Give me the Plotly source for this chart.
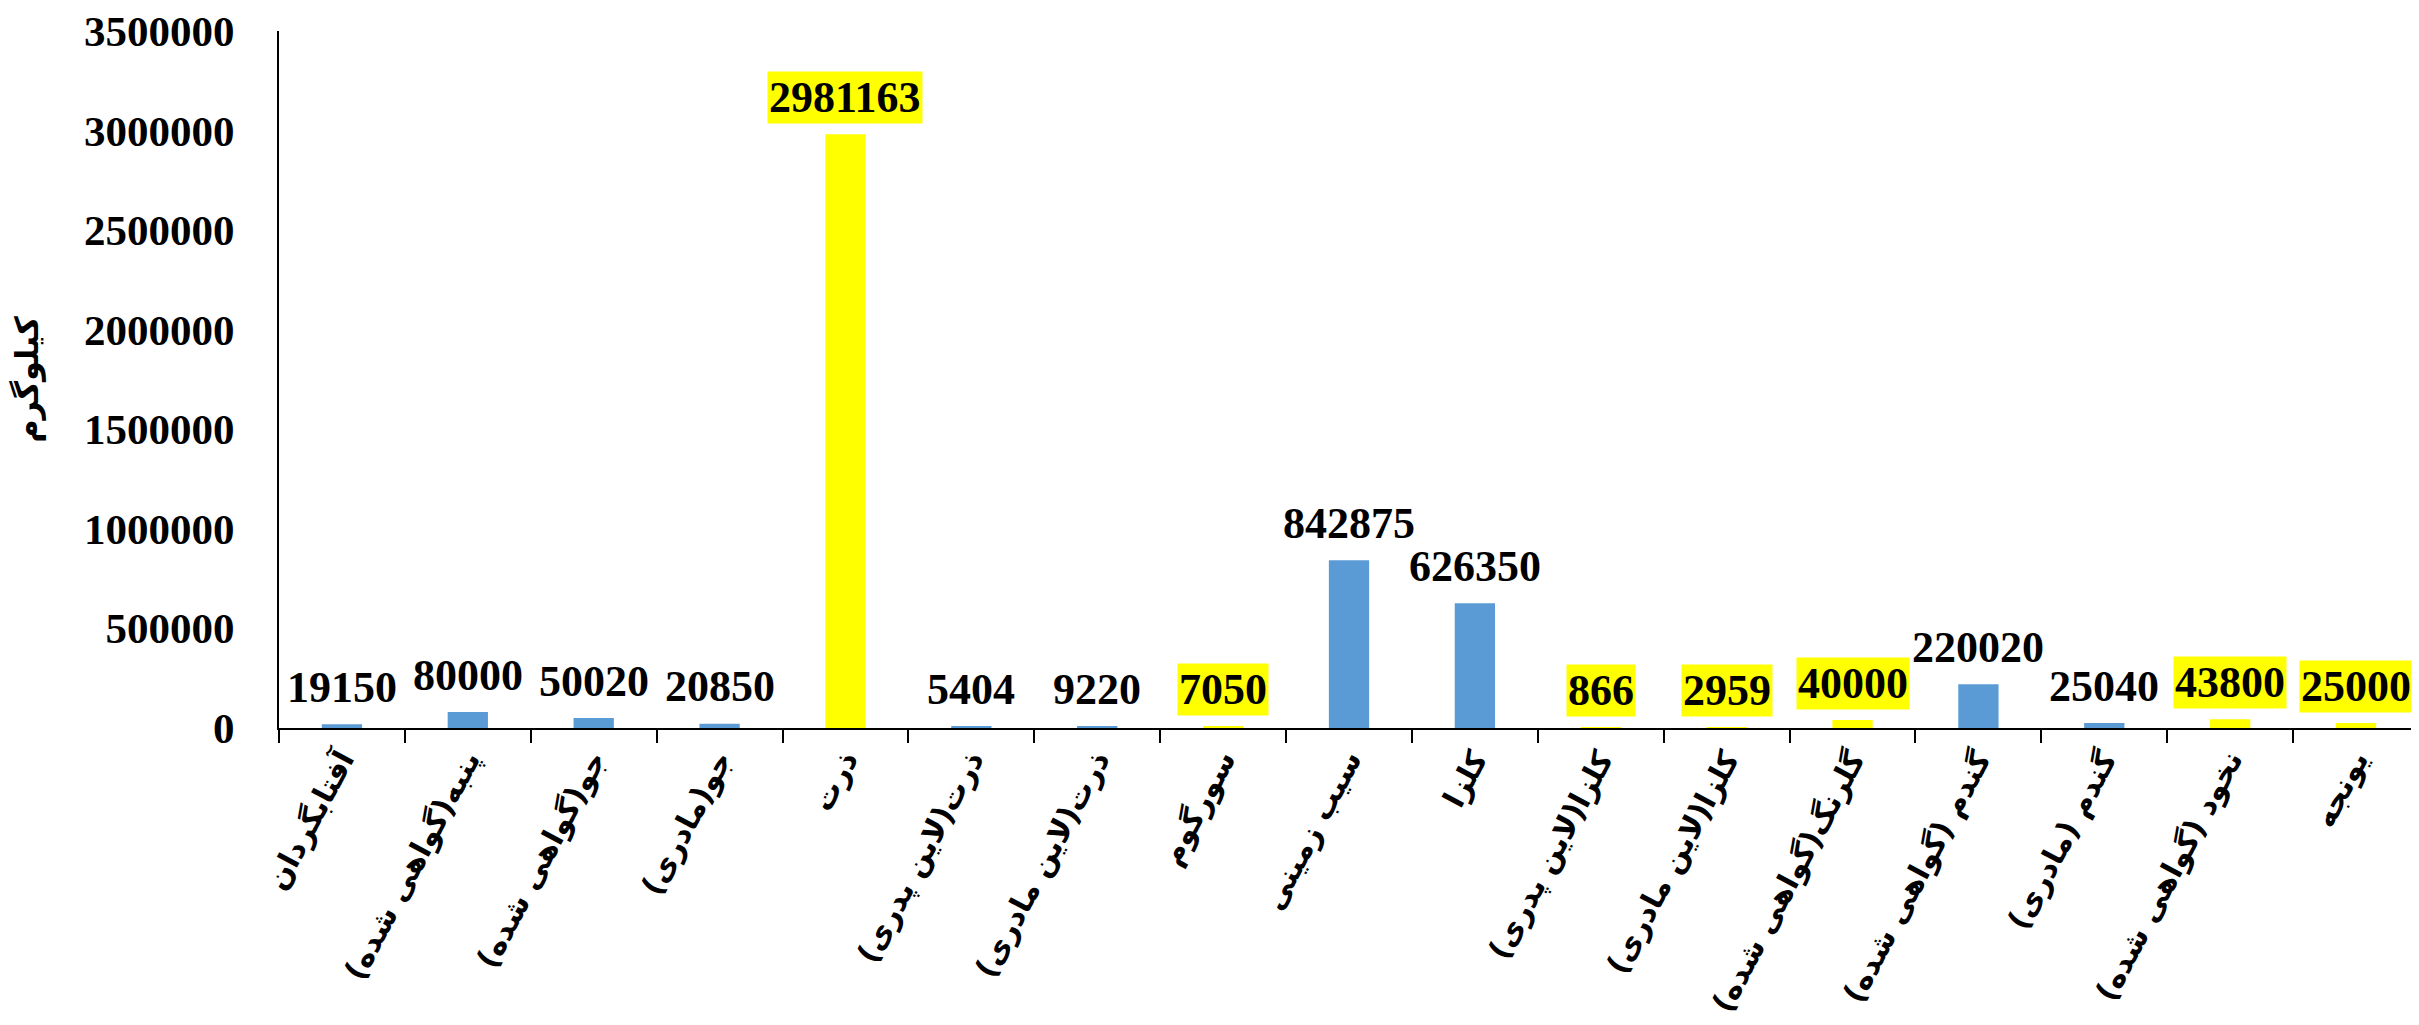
import plotly.graph_objects as go

# categories (Persian), values, which bars are highlighted yellow
crops = [
    "آفتابگردان",
    "پنبه(گواهی شده)",
    "جو(گواهی شده)",
    "جو(مادری)",
    "ذرت",
    "ذرت(لاین پدری)",
    "ذرت(لاین مادری)",
    "سورگوم",
    "سیب زمینی",
    "کلزا",
    "کلزا(لاین پدری)",
    "کلزا(لاین مادری)",
    "گلرنگ(گواهی شده)",
    "گندم (گواهی شده)",
    "گندم (مادری)",
    "نخود (گواهی شده)",
    "یونجه",
]
kg = [19150, 80000, 50020, 20850, 2981163, 5404, 9220, 7050, 842875,
      626350, 866, 2959, 40000, 220020, 25040, 43800, 25000]
highlight = [0, 0, 0, 0, 1, 0, 0, 1, 0, 0, 1, 1, 1, 0, 0, 1, 1]

blue = "#5B9BD5"
yellow = "#FFFF00"
serif = "Liberation Serif, Times New Roman, DejaVu Serif"
persian = "DejaVu Sans, Noto Sans"

colors = [yellow if h else blue for h in highlight]

fig = go.Figure(go.Bar(x=crops, y=kg, marker_color=colors, marker_line_width=0))

# data labels sit a fixed distance above each bar
for c, v, h in zip(crops, kg, highlight):
    fig.add_annotation(
        x=c, y=v, yanchor="middle", yshift=37, showarrow=False,
        text="<b>%d</b>" % v,
        font=dict(family=serif, size=44, color="black"),
        bgcolor=yellow if h else "rgba(0,0,0,0)",
        borderpad=1,
    )

# page body adds ~8px offset, so the figure is a little smaller than the window
fig.update_layout(
    width=2411, height=1017,
    margin=dict(l=271, r=0, t=23, b=297),
    plot_bgcolor="white", paper_bgcolor="white",
    bargap=0.68,
    showlegend=False,
)
fig.update_xaxes(
    type="category", tickson="boundaries",
    ticks="outside", ticklen=13, tickwidth=2, tickcolor="black",
    showline=True, linecolor="black", linewidth=2,
    tickangle=-62, automargin=False, ticklabeloverflow="allow",
    tickfont=dict(family=persian, size=30, color="black", weight="bold"),
    showgrid=False,
)
fig.update_yaxes(
    range=[0, 3500000], tick0=0, dtick=500000, tickformat="d",
    showline=True, linecolor="black", linewidth=2,
    ticks="", ticklabelstandoff=34, automargin=False, ticklabeloverflow="allow",
    tickfont=dict(family=serif, size=43, color="black", weight="bold"),
    showgrid=False, zeroline=False,
    title=dict(text="کیلوگرم", standoff=42,
               font=dict(family=persian, size=32, color="black", weight="bold")),
)

fig.write_html("out.html")
